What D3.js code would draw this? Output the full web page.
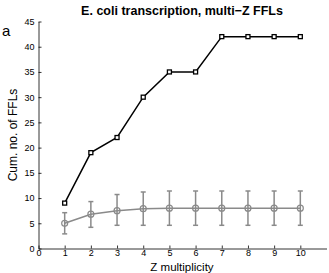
<!DOCTYPE html>
<html><head><meta charset="utf-8">
<script src="https://cdn.jsdelivr.net/npm/d3@7"></script>
<style>body{margin:0;background:#fff}svg{display:block}text{font-family:"Liberation Sans",Arial,sans-serif}</style>
</head><body>
<svg id="c" width="329" height="273"></svg>
<script>
const zValues = [1,2,3,4,5,6,7,8,9,10];
const realCounts = [9,19,22,30,35,35,42,42,42,42];
const randMean = [5.0,6.8,7.5,7.9,8.0,8.0,8.0,8.0,8.0,8.0];
const randLow = [2.9,4.2,4.6,4.6,4.6,4.6,4.6,4.6,4.6,4.6];
const randHigh = [7.1,9.3,10.7,11.2,11.4,11.4,11.4,11.4,11.4,11.4];
const xTicks = [0,1,2,3,4,5,6,7,8,9,10];
const yTicks = [0,5,10,15,20,25,30,35,40,45];

const svg = d3.select("#c");
const x = d3.scaleLinear().domain([0,11]).range([38.5,326.5]);
const y = d3.scaleLinear().domain([0,45]).range([248.5,21.5]);

const xa = svg.append("g").attr("transform","translate(0,248.5)")
  .call(d3.axisBottom(x).tickValues(xTicks).tickSizeInner(-3).tickSizeOuter(0).tickPadding(2));
const ya = svg.append("g").attr("transform","translate(38.5,0)")
  .call(d3.axisLeft(y).tickValues(yTicks).tickSizeInner(-3).tickSizeOuter(0).tickPadding(4));
[xa,ya].forEach(a=>{a.selectAll("path,line").attr("stroke","#000").attr("stroke-width",0.8);
  a.selectAll("text").attr("font-size",9).attr("fill","#000").attr("font-family","Liberation Sans, Arial, sans-serif");});
xa.selectAll("text").attr("dy","0.65em");

const gray = "#8a8a8a";
const eb = svg.append("g").attr("stroke",gray).attr("stroke-width",1.5);
zValues.forEach((z,i)=>{
  eb.append("line").attr("x1",x(z)).attr("x2",x(z)).attr("y1",y(randLow[i])).attr("y2",y(randHigh[i]));
  eb.append("line").attr("x1",x(z)-2.5).attr("x2",x(z)+2.5).attr("y1",y(randLow[i])).attr("y2",y(randLow[i]));
  eb.append("line").attr("x1",x(z)-2.5).attr("x2",x(z)+2.5).attr("y1",y(randHigh[i])).attr("y2",y(randHigh[i]));
});
const line = d3.line().x((d,i)=>x(zValues[i])).y(d=>y(d));
svg.append("path").datum(randMean).attr("d",line).attr("fill","none").attr("stroke",gray).attr("stroke-width",1.5);
svg.append("g").selectAll("circle").data(randMean).join("circle")
  .attr("cx",(d,i)=>x(zValues[i])).attr("cy",d=>y(d)).attr("r",3)
  .attr("fill","none").attr("stroke",gray).attr("stroke-width",1.2);

svg.append("path").datum(realCounts).attr("d",line).attr("fill","none").attr("stroke","#000").attr("stroke-width",1.5);
svg.append("g").selectAll("rect").data(realCounts).join("rect")
  .attr("x",(d,i)=>x(zValues[i])-2).attr("y",d=>y(d)-2).attr("width",4).attr("height",4)
  .attr("fill","#fff").attr("stroke","#000").attr("stroke-width",1.3);

svg.append("text").attr("x",182).attr("y",15).attr("text-anchor","middle")
  .attr("font-size",12.5).attr("font-weight","bold").text("E. coli transcription, multi\u2212Z FFLs");
svg.append("text").attr("x",2).attr("y",36).attr("font-size",15).text("a");
svg.append("text").attr("transform","translate(17,135) rotate(-90)").attr("text-anchor","middle")
  .attr("font-size",12).text("Cum. no. of FFLs");
svg.append("text").attr("x",182).attr("y",270.5).attr("text-anchor","middle")
  .attr("font-size",11.5).text("Z multiplicity");
</script>
</body></html>
